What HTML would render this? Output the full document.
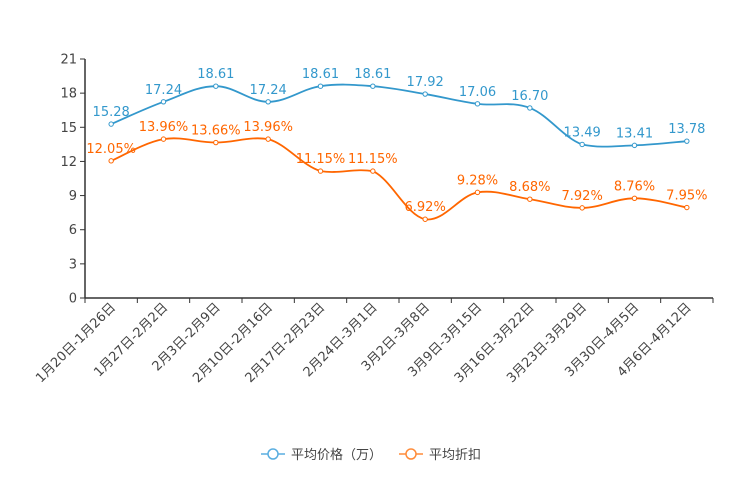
<!DOCTYPE html>
<html><head><meta charset="utf-8"><style>
body{margin:0;background:#fff;width:744px;height:496px;overflow:hidden}
svg{font-family:"DejaVu Sans","Noto Sans CJK SC",sans-serif}
</style></head><body>
<svg id="c" width="744" height="496"></svg>
<script>
const categories=["1月20日-1月26日","1月27日-2月2日","2月3日-2月9日","2月10日-2月16日","2月17日-2月23日","2月24日-3月1日","3月2日-3月8日","3月9日-3月15日","3月16日-3月22日","3月23日-3月29日","3月30日-4月5日","4月6日-4月12日"];
const priceValues=[15.28,17.24,18.61,17.24,18.61,18.61,17.92,17.06,16.70,13.49,13.41,13.78];
const discountValues=[12.05,13.96,13.66,13.96,11.15,11.15,6.92,9.28,8.68,7.92,8.76,7.95];
const yTicks=[0,3,6,9,12,15,18,21];
const NS="http://www.w3.org/2000/svg";
const svg=document.getElementById('c');
const L=85,R=713,T=59,B=298,yMax=21;
const bw=(R-L)/categories.length;
const xs=i=>L+bw*(i+0.5);
const ys=v=>B-(v/yMax)*(B-T);
function mk(t,a,p){const e=document.createElementNS(NS,t);for(const k in a)e.setAttribute(k,a[k]);(p||svg).appendChild(e);return e;}
yTicks.forEach(v=>{
  const t=mk('text',{x:L-8,y:ys(v)+4.5,'text-anchor':'end','font-size':13,fill:'#444'});t.textContent=v;
  
  
  mk('line',{x1:L-5,x2:L,y1:ys(v),y2:ys(v),stroke:'#333'});
});
const ya=mk('line',{x1:L,x2:L,y1:T,y2:B,stroke:'#333','stroke-width':1.5});


const xa=mk('line',{x1:L,x2:R,y1:B,y2:B,stroke:'#333','stroke-width':1.5});


for(let i=0;i<=categories.length;i++){mk('line',{x1:L+bw*i,x2:L+bw*i,y1:B,y2:B+5,stroke:'#333'});}
categories.forEach((c,i)=>{
  const x=xs(i)+5,y=B+10;
  const t=mk('text',{x:x,y:y,'text-anchor':'end','font-size':13,fill:'#444',transform:`rotate(-45 ${x} ${y})`});
  t.textContent=c;
  
  
});
function path(vals){
  const p=vals.map((v,i)=>[xs(i),ys(v)]);let d=`M${p[0][0]},${p[0][1]}`;const k=0.18;
  for(let i=0;i<p.length-1;i++){
    const p0=p[Math.max(i-1,0)],p1=p[i],p2=p[i+1],p3=p[Math.min(i+2,p.length-1)];
    let c1y=p1[1]+(p2[1]-p0[1])*k, c2y=p2[1]-(p3[1]-p1[1])*k;
    const lo=Math.min(p1[1],p2[1]),hi=Math.max(p1[1],p2[1]);
    c1y=Math.max(lo-3,Math.min(hi+3,c1y));c2y=Math.max(lo-3,Math.min(hi+3,c2y));
    d+=` C${p1[0]+(p2[0]-p0[0])*k},${c1y} ${p2[0]-(p3[0]-p1[0])*k},${c2y} ${p2[0]},${p2[1]}`;
  }return d;
}
function series(vals,color,name,suffix){
  const g=mk('g',{});
  
  
  mk('path',{d:path(vals),fill:'none',stroke:color,'stroke-width':1.8},g);
  vals.forEach((v,i)=>{
    const c=mk('circle',{cx:xs(i),cy:ys(v),r:2.2,fill:'#fff',stroke:color,'stroke-width':1},g);
    
    
    const t=mk('text',{x:xs(i),y:ys(v)-8,'text-anchor':'middle','font-size':13,fill:color},g);
    t.textContent=v.toFixed(2)+suffix;
    
    
  });
}
series(priceValues,'#3398cc','price','');
series(discountValues,'#ff6600','discount','%');
function legend(x,color,label,name){
  const g=mk('g',{});
  
  
  mk('line',{x1:x,x2:x+24,y1:454,y2:454,stroke:color,'stroke-width':1.5},g);
  mk('circle',{cx:x+12,cy:454,r:5,fill:'#fff',stroke:color,'stroke-width':1.5},g);
  const t=mk('text',{x:x+30,y:459,'font-size':13,fill:'#444'},g);t.textContent=label;
}
legend(261,'#5aaee0','平均价格（万）','price');
legend(399,'#ff8c3a','平均折扣','discount');
</script>
</body></html>
